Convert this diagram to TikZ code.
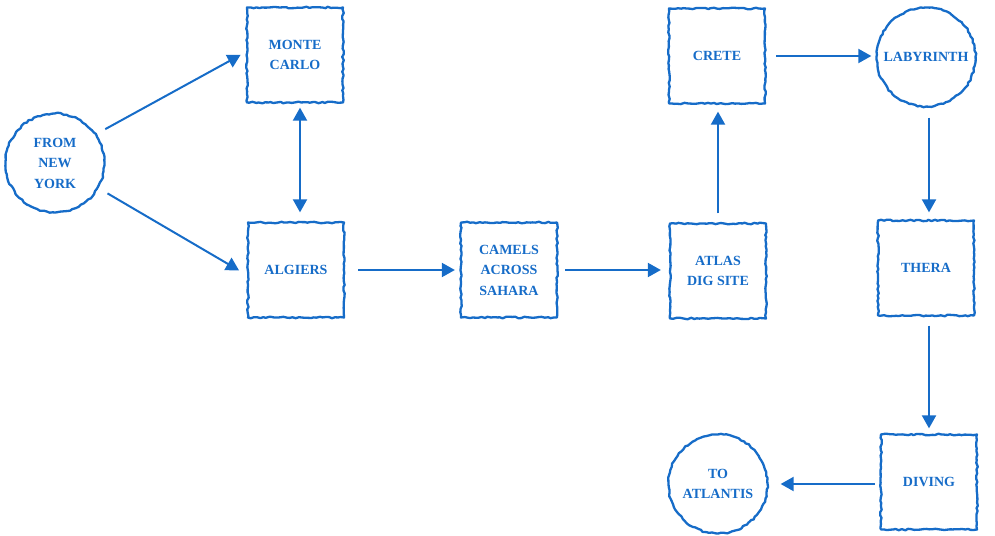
\documentclass[tikz,border=0pt]{standalone}
\usepackage{fontspec}
\setmainfont{Liberation Serif}
\usetikzlibrary{arrows.meta,decorations.pathmorphing}
\definecolor{ink}{RGB}{22,108,200}
\begin{document}
\begin{tikzpicture}[x=1pt,y=-1pt,
  every node/.style={text=ink, font=\bfseries\fontsize{14}{20.5}\selectfont, align=center},
  rough/.style={draw=ink, line width=2.3pt, line join=round, decorate,
    decoration={random steps, segment length=3pt, amplitude=0.8pt}},
  place/.style={rough, rectangle, minimum width=96pt, minimum height=95pt, inner sep=0pt},
  roundplace/.style={rough, circle, minimum size=99pt, inner sep=0pt},
  arr/.style={draw=ink, line width=2pt, -{Triangle[length=13pt,width=14pt]}},
  biarr/.style={draw=ink, line width=2pt, {Triangle[length=13pt,width=14pt]}-{Triangle[length=13pt,width=14pt]}}
]
\pgfmathsetseed{7}
\useasboundingbox (0,0) rectangle (995,535);
\node[roundplace] (ny) at (55,163) {FROM\\NEW\\YORK};
\node[place] (mc) at (295,55) {MONTE\\CARLO};
\node[place] (alg) at (296,270) {ALGIERS};
\node[place] (cam) at (509,270) {CAMELS\\ACROSS\\SAHARA};
\node[place] (atl) at (718,271) {ATLAS\\DIG SITE};
\node[place] (cre) at (717,56) {CRETE};
\node[roundplace] (lab) at (926,57) {LABYRINTH};
\node[place] (the) at (926,268) {THERA};
\node[place] (div) at (929,482) {DIVING};
\node[roundplace] (ta) at (718,484) {TO\\ATLANTIS};

\draw[arr, shorten <=10pt, shorten >=6pt] (ny.35) -- ([yshift=3pt]mc.west);
\draw[arr, shorten <=10pt, shorten >=9pt] (ny.-30) -- ([yshift=-5pt]alg.west);
\draw[biarr, shorten <=4pt, shorten >=9pt] ([xshift=5pt]mc.south) -- ([xshift=5pt]mc.south |- alg.north);
\draw[arr, shorten <=13pt, shorten >=5pt] (alg.east) -- (alg.east -| cam.west);
\draw[arr, shorten <=7pt, shorten >=8pt] (cam.east) -- (cam.east -| atl.west);
\draw[arr, shorten <=9pt, shorten >=7pt] (atl.north) -- (atl.north |- cre.south);
\draw[arr, shorten <=10pt, shorten >=4pt] (cre.east) -- (cre.east -| lab.west);
\draw[arr, shorten <=10pt, shorten >=7pt] ([xshift=3pt]lab.south) -- ([xshift=3pt]lab.south |- the.north);
\draw[arr, shorten <=9pt, shorten >=5pt] (div.north |- the.south) -- (div.north);
\draw[arr, shorten <=5pt, shorten >=12pt] ([yshift=-2pt]div.west) -- ([yshift=-2pt]div.west -| ta.east);
\end{tikzpicture}
\end{document}
